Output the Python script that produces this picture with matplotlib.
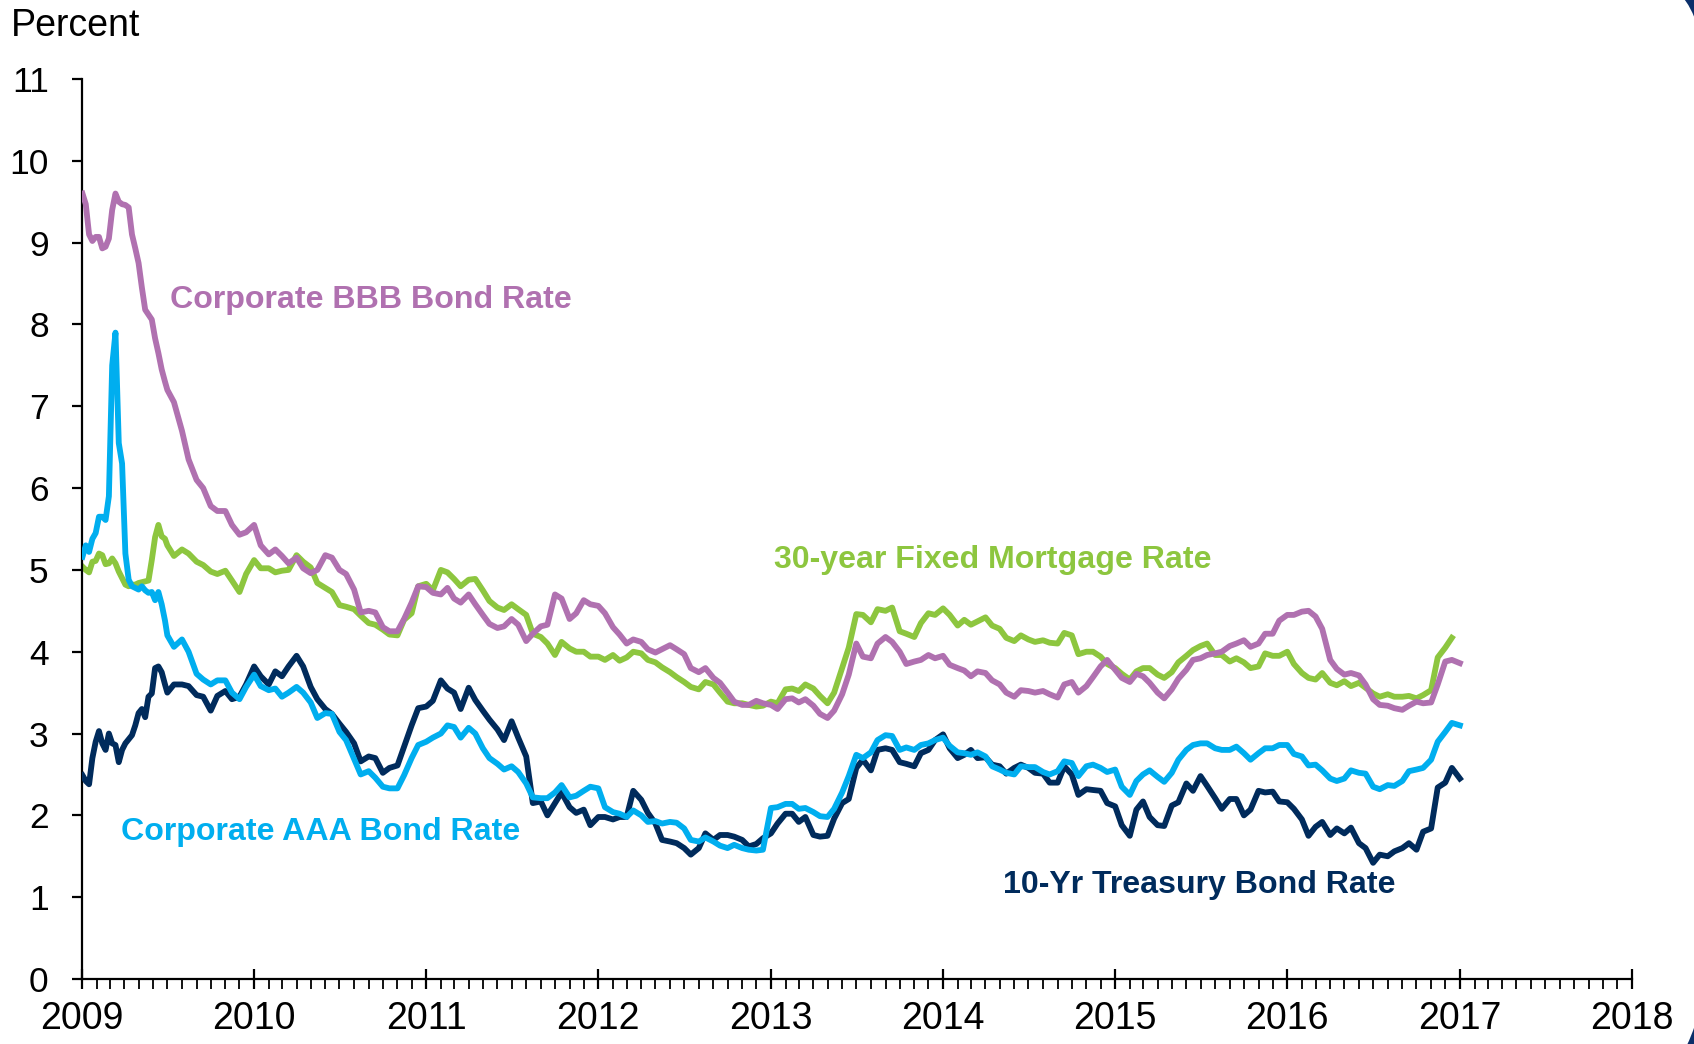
import matplotlib
matplotlib.use("Agg")
import matplotlib.pyplot as plt
import matplotlib.dates as mdates
import pandas as pd
from matplotlib.path import Path
from matplotlib.patches import PathPatch
from matplotlib.transforms import IdentityTransform

plt.rcParams['font.family'] = ['Liberation Sans', 'DejaVu Sans']

# ---------------- data (percent) ----------------
# weekly observations Jan-Jun 2009, then semi-monthly from Jul 2009
weekly_dates = pd.date_range('2009-01-02', periods=26, freq='7D')
semimonthly_dates = pd.date_range('2009-07-01', '2017-01-01', freq='SMS')
all_dates = weekly_dates.append(semimonthly_dates)

bbb = [9.60, 9.47, 9.10, 9.02, 9.07, 9.07, 8.93, 8.95, 9.05, 9.40, 9.60, 9.50, 9.47,
       9.46, 9.43, 9.10, 8.93, 8.75, 8.45, 8.18, 8.12, 8.06, 7.83, 7.65, 7.45, 7.30,
       7.2, 7.05, 6.7, 6.35, 6.1, 6.0, 5.78, 5.72,
       5.72, 5.55, 5.43, 5.46, 5.55, 5.3, 5.19, 5.25, 5.17, 5.08,
       5.15, 5.02, 4.96, 5.0, 5.18, 5.15, 5.0, 4.95, 4.76, 4.48,
       4.5, 4.48, 4.3, 4.25, 4.25, 4.4, 4.6, 4.8, 4.79, 4.72,
       4.7, 4.78, 4.65, 4.6, 4.7, 4.58, 4.45, 4.34, 4.29, 4.31,
       4.40, 4.33, 4.13, 4.22, 4.31, 4.33, 4.7, 4.65, 4.4, 4.47,
       4.63, 4.58, 4.56, 4.47, 4.3, 4.21, 4.1, 4.15, 4.12, 4.03,
       3.99, 4.03, 4.08, 4.03, 3.97, 3.8, 3.75, 3.8, 3.68, 3.62,
       3.5, 3.39, 3.35, 3.35, 3.4, 3.37, 3.35, 3.3, 3.42, 3.43,
       3.38, 3.42, 3.34, 3.24, 3.19, 3.28, 3.48, 3.72, 4.1, 3.94,
       3.92, 4.1, 4.18, 4.12, 4.0, 3.85, 3.88, 3.9, 3.96, 3.92,
       3.95, 3.84, 3.8, 3.77, 3.7, 3.76, 3.74, 3.65, 3.6, 3.5,
       3.45, 3.53, 3.52, 3.5, 3.52, 3.48, 3.44, 3.6, 3.63, 3.5,
       3.58, 3.69, 3.82, 3.9, 3.78, 3.68, 3.63, 3.73, 3.7, 3.62,
       3.5, 3.43, 3.54, 3.67, 3.78, 3.9, 3.92, 3.96, 3.98, 4.0,
       4.07, 4.1, 4.14, 4.06, 4.1, 4.22, 4.22, 4.38, 4.45, 4.45,
       4.49, 4.5, 4.43, 4.28, 3.9, 3.79, 3.72, 3.74, 3.71, 3.6,
       3.42, 3.35, 3.34, 3.31, 3.29, 3.34, 3.39, 3.37, 3.38, 3.6,
       3.88, 3.9, 3.86]

mortgage = [5.04, 5.0, 4.97, 5.1, 5.11, 5.2, 5.18, 5.07, 5.08, 5.14, 5.08, 4.98, 4.9,
            4.82, 4.8, 4.82, 4.82, 4.84, 4.85, 4.86, 4.87, 5.12, 5.4, 5.55, 5.41, 5.38,
            5.3, 5.17, 5.25, 5.2, 5.1, 5.06, 4.98, 4.95,
            4.99, 4.87, 4.73, 4.95, 5.12, 5.02, 5.02, 4.97, 4.99, 5.0,
            5.18, 5.10, 5.03, 4.84, 4.78, 4.73, 4.57, 4.55, 4.52, 4.44,
            4.35, 4.33, 4.27, 4.21, 4.20, 4.39, 4.47, 4.80, 4.83, 4.75,
            5.0, 4.97, 4.89, 4.8, 4.88, 4.89, 4.75, 4.62, 4.54, 4.51,
            4.58, 4.52, 4.45, 4.22, 4.18, 4.1, 3.96, 4.12, 4.04, 4.0,
            4.0, 3.94, 3.94, 3.9, 3.96, 3.89, 3.93, 4.0, 3.98, 3.9,
            3.87, 3.81, 3.75, 3.69, 3.63, 3.57, 3.54, 3.63, 3.6, 3.5,
            3.39, 3.37, 3.37, 3.35, 3.33, 3.34, 3.39, 3.37, 3.54, 3.55,
            3.52, 3.6, 3.55, 3.46, 3.37, 3.5, 3.8, 4.05, 4.46, 4.45,
            4.36, 4.52, 4.5, 4.54, 4.25, 4.22, 4.18, 4.35, 4.47, 4.45,
            4.53, 4.45, 4.32, 4.39, 4.33, 4.37, 4.42, 4.32, 4.28, 4.17,
            4.13, 4.2, 4.15, 4.12, 4.14, 4.11, 4.1, 4.23, 4.2, 3.97,
            4.0, 4.0, 3.94, 3.85, 3.8, 3.73, 3.66, 3.76, 3.8, 3.8,
            3.72, 3.68, 3.75, 3.87, 3.95, 4.02, 4.07, 4.1, 3.96, 3.96,
            3.88, 3.92, 3.87, 3.8, 3.82, 3.98, 3.95, 3.95, 4.0, 3.85,
            3.74, 3.68, 3.66, 3.74, 3.62, 3.59, 3.64, 3.58, 3.62, 3.56,
            3.49, 3.45, 3.48, 3.45, 3.45, 3.46, 3.43, 3.47, 3.53, 3.93,
            4.05, 4.17]

aaa = [5.16, 5.3, 5.22, 5.38, 5.45, 5.65, 5.65, 5.61, 5.9, 7.5, 7.9, 6.55, 6.3,
       5.2, 4.88, 4.8, 4.78, 4.76, 4.8, 4.75, 4.72, 4.73, 4.63, 4.73, 4.58, 4.38,
       4.2, 4.06, 4.15, 4.0, 3.73, 3.66, 3.6, 3.65,
       3.65, 3.5, 3.42, 3.57, 3.72, 3.58, 3.53, 3.55, 3.45, 3.5,
       3.57, 3.5, 3.38, 3.19, 3.25, 3.24, 3.02, 2.92, 2.69, 2.5,
       2.54, 2.46, 2.35, 2.33, 2.33, 2.49, 2.7, 2.86, 2.9, 2.95,
       3.0, 3.1, 3.08, 2.95, 3.07, 3.0, 2.82, 2.7, 2.63, 2.56,
       2.6, 2.53, 2.39, 2.22, 2.21, 2.21, 2.28, 2.37, 2.22, 2.24,
       2.3, 2.35, 2.33, 2.1, 2.04, 2.02, 1.98, 2.06, 2.0, 1.92,
       1.93, 1.9, 1.92, 1.91, 1.84, 1.7, 1.68, 1.73, 1.68, 1.63,
       1.6, 1.64, 1.6, 1.58, 1.57, 1.58, 2.09, 2.1, 2.14, 2.14,
       2.08, 2.09, 2.04, 1.99, 1.98, 2.08, 2.28, 2.48, 2.74, 2.7,
       2.77, 2.92, 2.98, 2.97, 2.8, 2.83, 2.8, 2.86, 2.88, 2.92,
       2.95, 2.85, 2.77, 2.76, 2.74, 2.77, 2.72, 2.6, 2.56, 2.52,
       2.5, 2.6, 2.59, 2.59, 2.53, 2.5, 2.54, 2.66, 2.64, 2.48,
       2.6, 2.62, 2.58, 2.53, 2.56, 2.35, 2.25, 2.42, 2.5, 2.55,
       2.47, 2.41, 2.52, 2.68, 2.8, 2.86, 2.88, 2.88, 2.82, 2.8,
       2.8, 2.84, 2.76, 2.68, 2.76, 2.82, 2.82, 2.86, 2.86, 2.75,
       2.72, 2.61, 2.62, 2.55, 2.45, 2.42, 2.45, 2.55, 2.52, 2.51,
       2.35, 2.32, 2.37, 2.36, 2.42, 2.54, 2.56, 2.58, 2.68, 2.9,
       3.02, 3.13, 3.1]

treasury = [2.49, 2.42, 2.38, 2.7, 2.9, 3.03, 2.88, 2.8, 3.0, 2.88, 2.86, 2.65, 2.8,
            2.88, 2.93, 2.98, 3.1, 3.25, 3.3, 3.2, 3.45, 3.49, 3.8, 3.82, 3.75, 3.6,
            3.5, 3.6, 3.6, 3.58, 3.47, 3.45, 3.28, 3.46,
            3.52, 3.42, 3.45, 3.6, 3.82, 3.7, 3.6, 3.76, 3.7, 3.82,
            3.95, 3.82, 3.57, 3.42, 3.3, 3.24, 3.12, 3.02, 2.88, 2.66,
            2.72, 2.7, 2.52, 2.58, 2.61, 2.84, 3.1, 3.31, 3.33, 3.4,
            3.65, 3.55, 3.5, 3.3, 3.56, 3.41, 3.28, 3.17, 3.05, 2.92,
            3.15, 2.95, 2.72, 2.15, 2.17, 2.0, 2.15, 2.28, 2.1, 2.03,
            2.07, 1.88, 1.98, 1.98, 1.95, 1.98, 1.98, 2.3, 2.19, 2.03,
            1.9, 1.7, 1.68, 1.66, 1.6, 1.52, 1.6, 1.78, 1.7, 1.76,
            1.76, 1.74, 1.7, 1.62, 1.65, 1.72, 1.78, 1.9, 2.02, 2.02,
            1.92, 1.98, 1.76, 1.74, 1.75, 1.96, 2.15, 2.2, 2.58, 2.68,
            2.55, 2.8, 2.82, 2.8, 2.65, 2.63, 2.6, 2.76, 2.8, 2.92,
            2.99, 2.82, 2.7, 2.74, 2.8, 2.7, 2.71, 2.62, 2.6, 2.51,
            2.58, 2.62, 2.58, 2.52, 2.51, 2.4, 2.4, 2.6, 2.5, 2.25,
            2.32, 2.31, 2.3, 2.15, 2.11, 1.88, 1.75, 2.07, 2.17, 1.98,
            1.88, 1.87, 2.12, 2.16, 2.39, 2.3, 2.48, 2.36, 2.21, 2.08,
            2.2, 2.2, 2.0, 2.07, 2.3, 2.28, 2.29, 2.17, 2.16, 2.08,
            1.95, 1.75, 1.86, 1.92, 1.76, 1.84, 1.78, 1.85, 1.66, 1.6,
            1.42, 1.52, 1.5, 1.56, 1.6, 1.66, 1.58, 1.8, 1.84, 2.34,
            2.4, 2.58, 2.45]

series_labels = ['Corporate BBB Bond Rate', '30-year Fixed Mortgage Rate',
                 'Corporate AAA Bond Rate', '10-Yr Treasury Bond Rate']
year_ticks = list(range(2009, 2019))
y_ticks = list(range(0, 12))

# ---------------- style ----------------
C_BBB = '#B071B0'
C_MORT = '#8DC63F'
C_AAA = '#00AEEF'
C_TSY = '#002B5C'
NAVY = '#0B2F6A'

W, H = 1694, 1044
fig = plt.figure(figsize=(W / 100, H / 100), dpi=100)
ax = fig.add_axes([82 / W, 65 / H, 1550 / W, 900 / H])

lw = 4.2
def dates_for(vals):
    return all_dates[:len(vals)]

ax.plot(dates_for(mortgage), mortgage, color=C_MORT, lw=lw, solid_joinstyle='round', zorder=2)
ax.plot(dates_for(bbb), bbb, color=C_BBB, lw=lw, solid_joinstyle='round', zorder=3)
ax.plot(dates_for(treasury), treasury, color=C_TSY, lw=lw, solid_joinstyle='round', zorder=4)
ax.plot(dates_for(aaa), aaa, color=C_AAA, lw=lw, solid_joinstyle='round', zorder=5)

ax.set_xlim(pd.Timestamp(f'{year_ticks[0]}-01-01'), pd.Timestamp(f'{year_ticks[-1]}-01-01'))
ax.set_ylim(0, 11)
ax.set_yticks(y_ticks)
ax.set_xticks([pd.Timestamp(f'{y}-01-01') for y in year_ticks])
ax.xaxis.set_major_formatter(mdates.DateFormatter('%Y'))
ax.xaxis.set_minor_locator(mdates.MonthLocator())

for s in ['top', 'right']:
    ax.spines[s].set_visible(False)
for s in ['left', 'bottom']:
    ax.spines[s].set_linewidth(1.6)
    ax.spines[s].set_color('black')

ax.tick_params(axis='x', which='major', direction='inout', length=15, width=1.6,
               labelsize=27, pad=8, colors='black')
ax.tick_params(axis='x', which='minor', direction='out', length=7, width=1.3)
ax.tick_params(axis='y', which='major', direction='out', length=7, width=1.6,
               labelsize=25.5, pad=17)

fig.text(11 / W, 1 - 26 / H, 'Percent', fontsize=27, ha='left', va='center')

lab_fs = 23.1
def lab(date, y, text, color):
    ax.text(mdates.date2num(pd.Timestamp(date)), y, text, color=color, fontsize=lab_fs,
            fontweight='bold', ha='left', va='baseline', zorder=6)

lab('2009-07-06', 8.20, series_labels[0], C_BBB)
lab('2013-01-07', 5.02, series_labels[1], C_MORT)
lab('2009-03-25', 1.70, series_labels[2], C_AAA)
lab('2014-05-08', 1.048, series_labels[3], C_TSY)

# slide-frame corner fragments at right edge
def corner(verts):
    codes = [Path.MOVETO, Path.CURVE3, Path.CURVE3, Path.LINETO, Path.CLOSEPOLY]
    p = PathPatch(Path(verts, codes), facecolor=NAVY, edgecolor='none',
                  transform=IdentityTransform())
    fig.add_artist(p)

corner([(1684, H + 1), (1690, H - 6), (1695, H - 19), (1695, H + 1), (1684, H + 1)])
corner([(1687, -1), (1691, 7), (1695, 19), (1695, -1), (1687, -1)])

fig.savefig('out.png', dpi=100)
